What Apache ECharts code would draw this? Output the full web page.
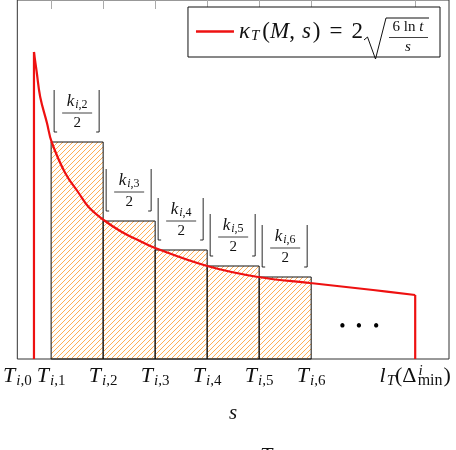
<!DOCTYPE html>
<html>
<head>
<meta charset="utf-8">
<script src="https://cdn.jsdelivr.net/npm/echarts@6/dist/echarts.min.js"></script>
<style>
    html, body { margin: 0; padding: 0; background: #fff; }
    #chart { width: 456px; height: 450px; }
</style>
</head>
<body>
<div id="chart"></div>
<script>
let chart = echarts.init(document.getElementById('chart'));

let serif = '"Liberation Serif", "DejaVu Serif", serif';

// interval boundaries on the s axis (one interval = 1)
let tickS = [0.35, 1, 2, 3, 4, 5, 6, 8];
let tickSub = ['0', '1', '2', '3', '4', '5', '6'];
let frameTicks = [1, 2, 3, 4, 5, 6, 8];

// hatched bars
let barFrom = [1, 2, 3, 4, 5];
let barTo = [2, 3, 4, 5, 6];
let barTop = [2.17, 1.38, 1.09, 0.93, 0.82];
let barSub = ['2', '3', '4', '5', '6'];

// kappa curve
let curveS = [0.67, 0.69, 0.72, 0.79, 0.92, 1.01, 1.27, 1.53, 1.72, 2.01, 2.36, 2.67, 3.0, 4.0, 4.98, 5.98, 7.19, 8];
let curveK = [3.07, 2.99, 2.88, 2.62, 2.36, 2.17, 1.86, 1.66, 1.52, 1.39, 1.27, 1.19, 1.11, 0.93, 0.82, 0.76, 0.69, 0.64];
// where the curve is cut off on both sides
let cutS = [0.67, 8];

// the "..." after the last bar
let dotsS = [6.6, 6.92, 7.25];
let dotsK = 0.35;

// orange hatch pattern
let hatch = document.createElement('canvas');
hatch.width = 5;
hatch.height = 5;
let hctx = hatch.getContext('2d');
hctx.strokeStyle = '#ff9419';
hctx.lineWidth = 0.75;
hctx.beginPath();
hctx.moveTo(0, 5); hctx.lineTo(5, 0);
hctx.moveTo(-1, 1); hctx.lineTo(1, -1);
hctx.moveTo(4, 6); hctx.lineTo(6, 4);
hctx.stroke();

let barData = barFrom.map((s, i) => [s, barTo[i], barTop[i]]);
let curveData = curveS.map((s, i) => [s, curveK[i]]);
let red = '#ee1111';

let renderBar = function (params, api) {
    let p0 = api.coord([api.value(0), api.value(2)]);
    let p1 = api.coord([api.value(1), 0]);
    let x0 = p0[0], y0 = p0[1], x1 = p1[0];
    let cx = (x0 + x1) / 2;
    let sub = barSub[params.dataIndex];
    let ink = '#111';
    return {
        type: 'group',
        children: [
            {
                type: 'rect',
                shape: {x: x0, y: y0, width: x1 - x0, height: p1[1] - y0},
                style: {fill: {image: hatch, repeat: 'repeat'}, stroke: ink, lineWidth: 1}
            },
            {
                type: 'polyline',
                shape: {points: [[x0 + 3, y0 - 52], [x0 + 3, y0 - 10], [x0 + 6, y0 - 10]]},
                style: {stroke: ink, lineWidth: 0.9, fill: null}
            },
            {
                type: 'polyline',
                shape: {points: [[x1 - 4, y0 - 52], [x1 - 4, y0 - 10], [x1 - 7, y0 - 10]]},
                style: {stroke: ink, lineWidth: 0.9, fill: null}
            },
            {
                type: 'text',
                style: {
                    text: '{k|k}{si|i}{sr|,' + sub + '}',
                    x: cx, y: y0 - 40,
                    align: 'center', verticalAlign: 'middle',
                    rich: {
                        k: {fontFamily: serif, fontStyle: 'italic', fontSize: 17, lineHeight: 18, fill: ink},
                        si: {fontFamily: serif, fontStyle: 'italic', fontSize: 12, lineHeight: 12, verticalAlign: 'bottom', padding: [0, 0, 0, 1], fill: ink},
                        sr: {fontFamily: serif, fontSize: 12, lineHeight: 12, verticalAlign: 'bottom', fill: ink}
                    }
                }
            },
            {
                type: 'line',
                shape: {x1: cx - 15, y1: y0 - 29, x2: cx + 15, y2: y0 - 29},
                style: {stroke: ink, lineWidth: 0.8}
            },
            {
                type: 'text',
                style: {
                    text: '2', x: cx, y: y0 - 19,
                    align: 'center', verticalAlign: 'middle',
                    font: '15px ' + serif, fill: ink
                }
            }
        ]
    };
};

let option = {
    animation: false,
    grid: {
        left: 17, right: 7, top: 0, bottom: 91,
        show: true, borderColor: '#333', borderWidth: 1
    },
    xAxis: [
        {
            type: 'value', min: 0.35, max: 8.65,
            axisLine: {show: false},
            axisTick: {show: false},
            splitLine: {show: false},
            name: 's',
            nameLocation: 'middle',
            nameGap: 44,
            nameTextStyle: {fontFamily: serif, fontStyle: 'italic', fontSize: 21, color: '#111'},
            axisLabel: {
                customValues: tickS,
                margin: 5,
                color: '#111',
                formatter: function (v) {
                    let i = tickS.indexOf(v);
                    if (i < 0) return '';
                    if (i === tickS.length - 1) {
                        return '{it|l}{sb|T}{rm|(Δ}{sp|i}{mn|min}{rm|)}';
                    }
                    return '{it|T}{sb|i}{sr|,' + tickSub[i] + '}';
                },
                rich: {
                    it: {fontFamily: serif, fontStyle: 'italic', fontSize: 22, lineHeight: 25},
                    rm: {fontFamily: serif, fontSize: 22, lineHeight: 25},
                    sb: {fontFamily: serif, fontStyle: 'italic', fontSize: 15, lineHeight: 15, verticalAlign: 'bottom', padding: [0, 0, 0, 1]},
                    sr: {fontFamily: serif, fontSize: 15, lineHeight: 15, verticalAlign: 'bottom'},
                    sp: {fontFamily: serif, fontStyle: 'italic', fontSize: 15, lineHeight: 15, verticalAlign: 'top', padding: [0, 0, 0, 2]},
                    mn: {fontFamily: serif, fontSize: 16, lineHeight: 16, verticalAlign: 'bottom', padding: [0, 1, 0, -5]}
                }
            }
        },
        {
            type: 'value', min: 0.35, max: 8.65, position: 'top',
            axisLine: {show: false},
            axisLabel: {show: false},
            splitLine: {show: false},
            axisTick: {
                show: true, inside: true, length: 9,
                customValues: frameTicks,
                lineStyle: {color: '#aaa', width: 1}
            }
        }
    ],
    yAxis: {
        type: 'value', min: 0, max: 3.59,
        axisLine: {show: false},
        axisTick: {show: false},
        axisLabel: {show: false},
        splitLine: {show: false}
    },
    legend: {
        data: ['kappa'],
        right: 16, top: 7,
        padding: [13, 77, 13, 8],
        icon: 'rect',
        itemWidth: 38, itemHeight: 2.5,
        backgroundColor: '#fff',
        borderColor: '#111', borderWidth: 1,
        borderRadius: 0,
        formatter: function () {
            return '{it|κ}{sb|T}{rm|(}{it|M}{rm|,}{it2|s}{rm|)}{eq|=}{rm|2}';
        },
        textStyle: {
            color: '#111',
            rich: {
                it: {fontFamily: serif, fontStyle: 'italic', fontSize: 23, lineHeight: 25},
                it2: {fontFamily: serif, fontStyle: 'italic', fontSize: 23, lineHeight: 25, padding: [0, 2, 0, 7]},
                rm: {fontFamily: serif, fontSize: 23, lineHeight: 25},
                eq: {fontFamily: serif, fontSize: 23, lineHeight: 25, padding: [0, 9, 0, 9]},
                sb: {fontFamily: serif, fontStyle: 'italic', fontSize: 15, lineHeight: 15, verticalAlign: 'bottom', padding: [0, 3, 0, 1]}
            }
        }
    },
    series: [
        {
            type: 'custom',
            name: 'bars',
            renderItem: renderBar,
            data: barData,
            z: 2
        },
        {
            type: 'line',
            name: 'kappa',
            data: curveData,
            symbol: 'none',
            smooth: 0.4,
            color: red,
            lineStyle: {color: red, width: 2.2},
            z: 3
        },
        {
            type: 'line',
            name: 'left cut',
            data: [[cutS[0], 0], [cutS[0], curveK[0]]],
            symbol: 'none',
            lineStyle: {color: red, width: 2.2},
            z: 3
        },
        {
            type: 'line',
            name: 'right cut',
            data: [[cutS[1], curveK[curveK.length - 1]], [cutS[1], 0]],
            symbol: 'none',
            lineStyle: {color: red, width: 2.2},
            z: 3
        }
    ]
};

chart.setOption(option);

// radical and fraction of the legend entry, the dots and the cut-off caption
let graphics = [
    {
        type: 'polyline',
        shape: {points: [[364, 40], [367.5, 37], [375.5, 59], [386, 18], [429, 18]]},
        style: {stroke: '#111', lineWidth: 1, fill: null},
        z: 100
    },
    {
        type: 'text',
        style: {
            text: '{rm|6 ln }{it|t}', x: 408, y: 27,
            align: 'center', verticalAlign: 'middle',
            rich: {
                rm: {fontFamily: serif, fontSize: 15, fill: '#111'},
                it: {fontFamily: serif, fontStyle: 'italic', fontSize: 15, fill: '#111'}
            }
        },
        z: 100
    },
    {
        type: 'line',
        shape: {x1: 389, y1: 37.5, x2: 428, y2: 37.5},
        style: {stroke: '#111', lineWidth: 0.8},
        z: 100
    },
    {
        type: 'text',
        style: {
            text: 's', x: 408, y: 47,
            align: 'center', verticalAlign: 'middle',
            font: 'italic 15px ' + serif, fill: '#111'
        },
        z: 100
    },
    {
        type: 'text',
        style: {
            text: 'T', x: 266, y: 456,
            align: 'center', verticalAlign: 'middle',
            font: 'italic 22px ' + serif, fill: '#111'
        }
    }
];

dotsS.forEach(s => {
    let p = chart.convertToPixel({gridIndex: 0}, [s, dotsK]);
    graphics.push({
        type: 'text',
        style: {
            text: '•', x: p[0], y: p[1] + 3,
            align: 'center', verticalAlign: 'middle',
            font: '18px ' + serif, fill: '#000'
        }
    });
});

chart.setOption({graphic: graphics});
</script>
</body>
</html>
